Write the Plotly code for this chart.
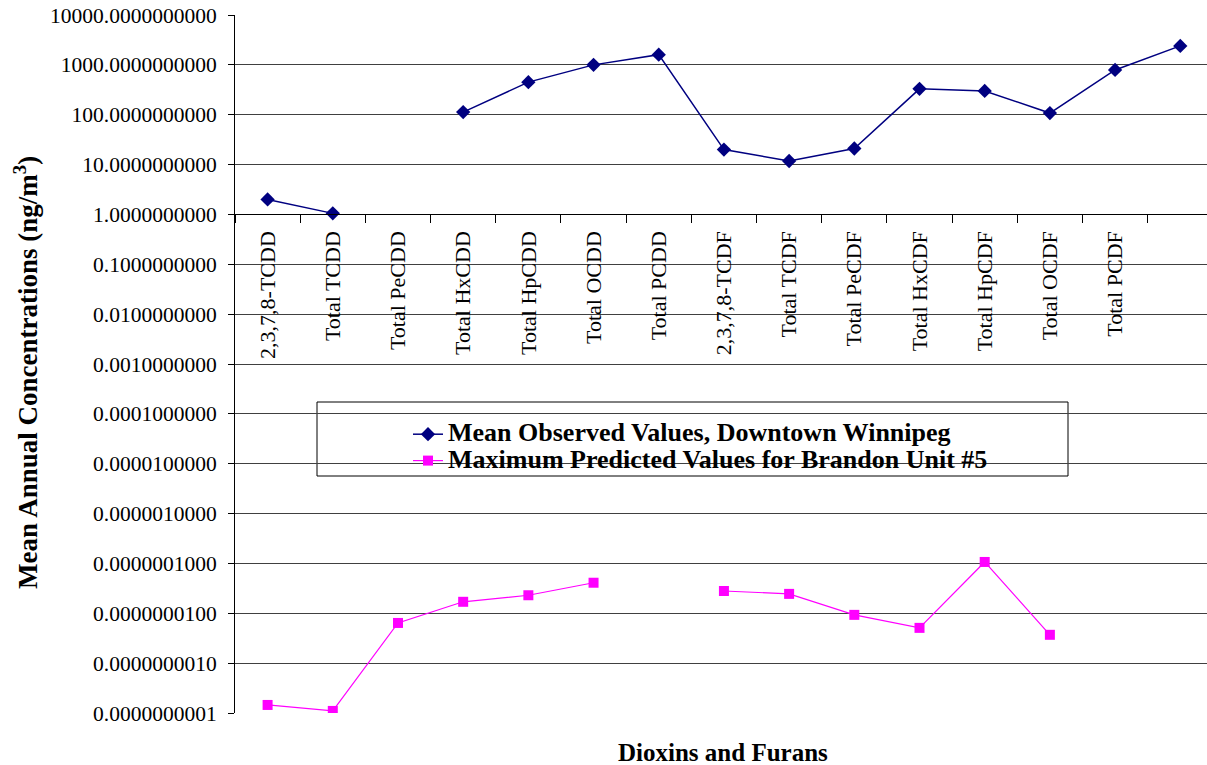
import plotly.graph_objects as go

categories = ["2,3,7,8-TCDD", "Total TCDD", "Total PeCDD", "Total HxCDD", "Total HpCDD",
              "Total OCDD", "Total PCDD", "2,3,7,8-TCDF", "Total TCDF", "Total PeCDF",
              "Total HxCDF", "Total HpCDF", "Total OCDF", "Total PCDF", " "]

observed = [2.0, 1.05, None, 113, 450, 1000, 1600, 20, 11.8, 21, 330, 300, 108, 790, 2400]
predicted = [1.45e-10, 1.1e-10, 6.4e-9, 1.7e-8, 2.3e-8, 4.1e-8, None, 2.8e-8, 2.45e-8,
             9.3e-9, 5.1e-9, 1.07e-7, 3.7e-9, None, None]

series_names = ["Mean Observed Values, Downtown Winnipeg",
                "Maximum Predicted Values for Brandon Unit #5"]

ytick_vals = [10.0 ** k for k in range(-10, 5)]
ytick_text = [f"{v:.10f}" for v in ytick_vals]

FONT = "Liberation Serif, Times New Roman, serif"

# plot area in pixels (used for paper-coordinate placement of decorations)
L, R, T, B = 235, 1207, 15, 713
W, H = R - L, B - T


def px(x):
    return (x - L) / W


def py(y):
    return (B - y) / H


def legend_label(s):
    return f'<span style="font-size:26px"><b>{s}</b></span>'


fig = go.Figure()
fig.add_trace(go.Scatter(
    x=categories, y=observed, mode="lines+markers",
    name=legend_label(series_names[0]),
    line=dict(color="#000080", width=1.5),
    marker=dict(symbol="diamond", size=11, color="#000080"),
    connectgaps=False,
))
fig.add_trace(go.Scatter(
    x=categories, y=predicted, mode="lines+markers",
    name=legend_label(series_names[1]),
    line=dict(color="#FF00FF", width=1.2),
    marker=dict(symbol="square", size=10, color="#FF00FF"),
    connectgaps=False,
))

fig.update_layout(
    width=1207, height=765,
    margin=dict(l=L, r=1207 - R, t=T, b=765 - B, autoexpand=False),
    paper_bgcolor="white", plot_bgcolor="white",
    font=dict(family=FONT, size=20, color="black"),
    showlegend=True,
    legend=dict(
        x=px(408), y=py(416), xanchor="left", yanchor="top",
        bgcolor="rgba(0,0,0,0)", borderwidth=0,
        font=dict(family=FONT, size=18, color="black"),
        itemwidth=30, tracegroupgap=0,
    ),
    xaxis=dict(
        type="category", categoryorder="array", categoryarray=categories,
        range=[-0.5, 14.41],
        anchor="free", position=10 / 14, automargin=False,
        showline=True, linecolor="black", linewidth=1,
        ticks="outside", ticklen=8, tickcolor="black", tickson="boundaries",
        tickangle=-90, ticklabelstandoff=7,
        tickfont=dict(family=FONT, size=22, color="black"),
        showgrid=False, zeroline=False,
    ),
    yaxis=dict(
        type="log", range=[-10, 4], automargin=False,
        tickvals=ytick_vals, ticktext=ytick_text,
        ticks="outside", ticklen=6, tickcolor="black", ticklabelstandoff=7,
        showline=True, linecolor="black", linewidth=1,
        showgrid=True, gridcolor="#404040", gridwidth=1,
        tickfont=dict(family=FONT, size=21.5, color="black"),
        zeroline=False,
    ),
    shapes=[dict(
        type="rect", xref="paper", yref="paper",
        x0=px(317), x1=px(1068), y0=py(476), y1=py(402),
        line=dict(color="black", width=1), fillcolor="white", layer="below",
    )],
    annotations=[
        dict(text="<b>Dioxins and Furans</b>", xref="paper", yref="paper",
             x=px(723), y=py(752), xanchor="center", yanchor="middle",
             showarrow=False, font=dict(family=FONT, size=25, color="black")),
        dict(text="<b>Mean Annual Concentrations (ng/m<sup>3</sup>)</b>",
             xref="paper", yref="paper", x=px(26), y=py(373),
             xanchor="center", yanchor="middle", textangle=-90,
             showarrow=False, font=dict(family=FONT, size=27, color="black")),
    ],
)

fig.write_html(
    "out.html",
    config={"displayModeBar": False},
    post_script="document.body.style.margin='0';document.body.style.overflow='hidden';",
)
